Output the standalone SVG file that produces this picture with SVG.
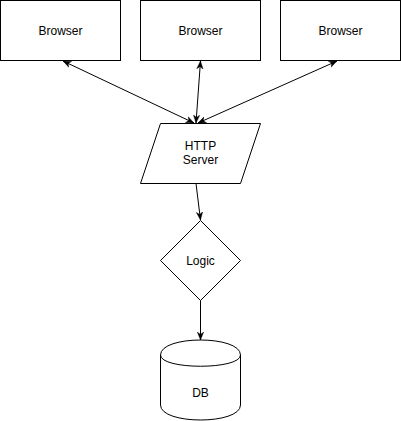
<svg xmlns="http://www.w3.org/2000/svg" width="401" height="421" viewBox="0 0 401 421">
  <style>
    .shape { fill: #ffffff; stroke: #000000; stroke-width: 1; }
    .label { font-family: "Liberation Sans", Arial, Helvetica, sans-serif; font-size: 12px; fill: #000000; text-anchor: middle; }
    .edge { fill: none; stroke: #000000; stroke-width: 1; }
  </style>
  <defs>
    <marker id="arrow" viewBox="0 0 10 10" refX="10" refY="5" markerWidth="8" markerHeight="8" markerUnits="userSpaceOnUse" orient="auto-start-reverse">
      <path d="M0,1 L10,5 L0,9 L3,5 Z" fill="#000000" stroke="#000000" stroke-width="0.5"/>
    </marker>
  </defs>
  <rect width="401" height="421" fill="#ffffff"/>

  <g id="browser1">
    <rect class="shape" x="0.5" y="0.5" width="120" height="60"/>
    <text class="label" x="60.5" y="35">Browser</text>
  </g>
  <g id="browser2">
    <rect class="shape" x="140.5" y="0.5" width="120" height="60"/>
    <text class="label" x="200.5" y="35">Browser</text>
  </g>
  <g id="browser3">
    <rect class="shape" x="280.5" y="0.5" width="120" height="60"/>
    <text class="label" x="340.5" y="35">Browser</text>
  </g>

  <g id="http-server">
    <polygon class="shape" points="160.5,123.5 260.5,123.5 240.5,183.5 140.5,183.5"/>
    <text class="label" x="200.5" y="150">HTTP</text>
    <text class="label" x="200.5" y="164">Server</text>
  </g>

  <g id="logic">
    <polygon class="shape" points="200.5,220.5 240.5,260.5 200.5,300.5 160.5,260.5"/>
    <text class="label" x="200.5" y="264.5">Logic</text>
  </g>

  <g id="db">
    <path class="shape" transform="translate(160.5,340)" d="M0,15 C0,-5 80,-5 80,15 L80,65 C80,85 0,85 0,65 Z"/>
    <path class="edge" transform="translate(160.5,340)" d="M0,15 C0,30 80,30 80,15"/>
    <text class="label" x="200.5" y="397">DB</text>
  </g>

  <g id="connectors">
    <line class="edge" x1="194" y1="123" x2="63" y2="61" marker-start="url(#arrow)" marker-end="url(#arrow)"/>
    <line class="edge" x1="196" y1="123" x2="200.5" y2="61" marker-start="url(#arrow)" marker-end="url(#arrow)"/>
    <line class="edge" x1="198" y1="123" x2="337" y2="61" marker-start="url(#arrow)" marker-end="url(#arrow)"/>
    <line class="edge" x1="196" y1="183.5" x2="200.5" y2="220" marker-end="url(#arrow)"/>
    <line class="edge" x1="200.5" y1="300.5" x2="200.5" y2="340" marker-end="url(#arrow)"/>
  </g>
</svg>
